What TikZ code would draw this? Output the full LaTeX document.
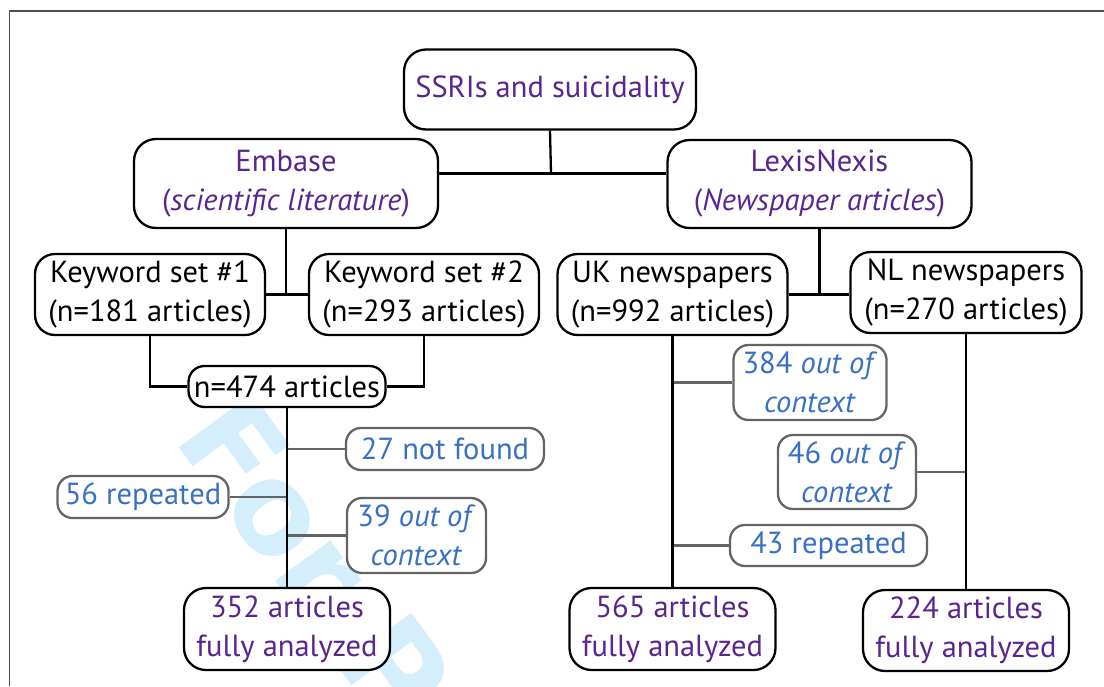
\documentclass[tikz,border=0pt]{standalone}
\usepackage{fontspec}
\setmainfont{PT Sans}
\newfontfamily\wmfont{DejaVu Sans}
\definecolor{purp}{RGB}{88,38,142}
\definecolor{blueT}{RGB}{56,112,198}
\definecolor{grayB}{RGB}{100,100,100}
\definecolor{wmblue}{RGB}{212,239,251}
\begin{document}
\begin{tikzpicture}[x=1pt,y=-1pt,
  every node/.style={font=\fontsize{30.5}{39}\selectfont, align=center, inner sep=0pt},
  mainbox/.style={draw=black, line width=2.3pt, rounded corners=22pt, fill=white, text=purp},
  kbox/.style={draw=black, line width=2.3pt, rounded corners=20pt, fill=white, text=black},
  sidebox/.style={draw=grayB, line width=2.3pt, rounded corners=15pt, fill=white, text=blueT},
  trunk/.style={draw=black, line width=2.3pt},
  sideline/.style={draw=grayB, line width=2.3pt},
  frameline/.style={draw=grayB!80!black, line width=1.3pt}
]
\useasboundingbox (0,0) rectangle (1104,686);
\fill[white] (0,0) rectangle (1104,686);
% watermark
\begin{scope}
\clip (0,0) rectangle (1104,686);
\node[font=\wmfont\bfseries\fontsize{125}{125}\selectfont, text=wmblue, anchor=base west, rotate=-54] (wm) at (172,438) {For P};
\end{scope}
% frame
\draw[frameline] (9.5,686) -- (9.5,11) -- (1104,11);
% nodes
\node[mainbox, minimum width=292pt, minimum height=80pt] (ssri) at (550,89.5) {SSRIs and suicidality};
\node[mainbox, minimum width=304pt, minimum height=89pt] (emb) at (286,183.5) {Embase\\(\textit{scientific literature})};
\node[mainbox, minimum width=304pt, minimum height=88pt] (lex) at (819.5,184) {LexisNexis\\(\textit{Newspaper articles})};
\node[kbox, minimum width=230pt, minimum height=81pt] (k1) at (150,294.5) {Keyword set \#1\\(n=181 articles)};
\node[kbox, minimum width=230pt, minimum height=81pt] (k2) at (424,294.5) {Keyword set \#2\\(n=293 articles)};
\node[kbox, minimum width=230pt, minimum height=81pt] (uk) at (672.5,294.5) {UK newspapers\\(n=992 articles)};
\node[kbox, minimum width=231pt, minimum height=81pt] (nl) at (966,292.5) {NL newspapers\\(n=270 articles)};
\node[kbox, rounded corners=16pt, minimum width=197pt, minimum height=41pt] (n474) at (287,386.5) {n=474 articles};
\node[sidebox, minimum width=198pt, minimum height=42pt] (nf27) at (445,449) {27 not found};
\node[sidebox, minimum width=171pt, minimum height=42pt] (rep56) at (143,497) {56 repeated};
\node[sidebox, minimum width=139pt, minimum height=75pt] (o39) at (416.5,535.5) {39 \textit{out of}\\\textit{context}};
\node[mainbox, minimum width=206pt, minimum height=82pt] (r352) at (287,629) {352 articles\\fully analyzed};
\node[sidebox, minimum width=153pt, minimum height=75pt] (o384) at (810,382.5) {384 \textit{out of}\\\textit{context}};
\node[sidebox, minimum width=138pt, minimum height=74pt] (o46) at (847,472) {46 \textit{out of}\\\textit{context}};
\node[sidebox, minimum width=197pt, minimum height=41pt] (r43) at (828.5,545.5) {43 repeated};
\node[mainbox, minimum width=206pt, minimum height=82pt] (r565) at (672.5,629) {565 articles\\fully analyzed};
\node[mainbox, minimum width=206pt, minimum height=81pt] (r224) at (966,630.5) {224 articles\\fully analyzed};
\coordinate (j0) at (551,173.5);
% side connectors
\draw[sideline] (n474.south |- nf27.west) -- (nf27.west);
\draw[sideline] (rep56.east) -- (rep56.east -| n474.south);
\draw[sideline] (n474.south |- o39.west) -- (o39.west);
\draw[sideline] (uk.south |- o384.west) -- (o384.west);
\draw[sideline] (uk.south |- r43.west) -- (r43.west);
\draw[sideline] (o46.east) -- (o46.east -| nl.south);
% trunk connectors
\draw[trunk] (ssri.south) -- (j0);
\draw[trunk] (emb.east |- j0) -- (lex.west |- j0);
\draw[trunk] (emb.south) -- (emb.south |- k1.east);
\draw[trunk] (k1.east) -- (k2.west);
\draw[trunk] (lex.south) -- (lex.south |- uk.east);
\draw[trunk] (uk.east) -- (nl.west |- uk.east);
\draw[trunk] (k1.south) -- (k1.south |- n474.west) -- (n474.west);
\draw[trunk] (k2.south) -- (k2.south |- n474.east) -- (n474.east);
\draw[trunk] (n474.south) -- (r352.north);
\draw[trunk] (uk.south) -- (r565.north);
\draw[trunk] (nl.south) -- (r224.north);
\end{tikzpicture}
\end{document}
